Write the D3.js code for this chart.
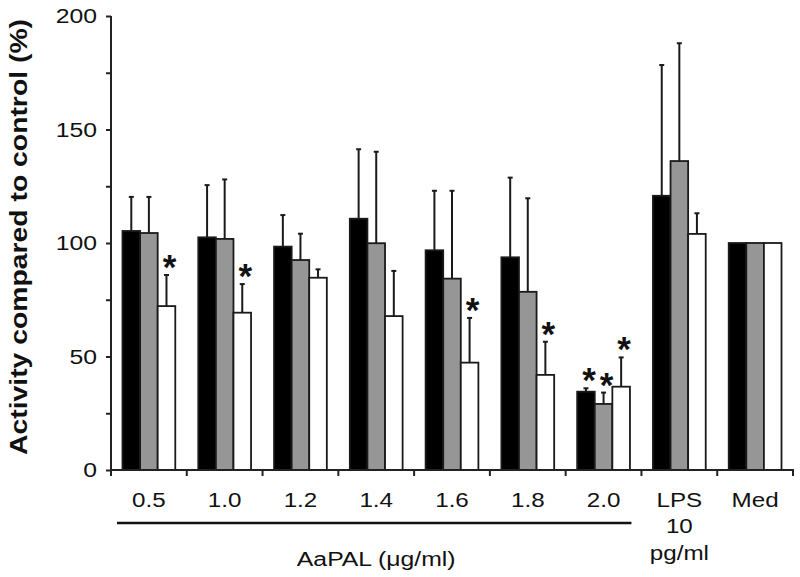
<!DOCTYPE html>
<html><head><meta charset="utf-8">
<script src="https://cdn.jsdelivr.net/npm/d3@7"></script>
<style>body{margin:0;background:#fff}svg{display:block}text{font-family:"Liberation Sans",Arial,sans-serif;fill:#111}</style>
</head><body><svg id="c" width="800" height="577"></svg>
<script>
const categories = ["0.5","1.0","1.2","1.4","1.6","1.8","2.0","LPS","Med"];
const seriesNames = ["black","gray","white"];
const seriesBlack = [105.3,102.5,98.4,110.7,96.8,93.7,34.5,120.8,100];
const seriesGray  = [104.4,101.8,92.5,99.9,84.3,78.5,29.1,136.1,100];
const seriesWhite = [72.2,69.3,84.7,67.8,47.3,41.9,36.7,104,100];
const errBlack = [15,23,13.9,30.6,26.2,35.1,1.5,57.6,0];
const errGray  = [15.9,26.2,11.6,40.3,38.7,41.2,5,51.9,0];
const errWhite = [13.7,12.6,3.7,19.9,19.7,14.6,12.9,9.1,0];
const sigBlack = [0,0,0,0,0,0,1,0,0];
const sigGray  = [0,0,0,0,0,0,1,0,0];
const sigWhite = [1,1,0,0,1,1,1,0,0];
const yTicks = [0,25,50,75,100,125,150,175,200];
const yLabel = "Activity compared to control (%)";
const groupLabel = "AaPAL (\u03bcg/ml)";
const groupCats = ["0.5","2.0"];

const values = [seriesBlack, seriesGray, seriesWhite];
const errs = [errBlack, errGray, errWhite];
const sigs = [sigBlack, sigGray, sigWhite];
const fills = ["#000000","#969696","#ffffff"];

const svg = d3.select("#c");
const x = d3.scaleBand().domain(categories).range([111,793]).padding(0);
const bw = x.bandwidth();
const x1 = d3.scaleBand().domain(seriesNames).range([11.5, bw-11.5]).padding(0);
const y = d3.scaleLinear().domain([0,200]).range([470,16]);
const SX = 1.18;

const data = [];
categories.forEach((c,i)=>seriesNames.forEach((s,j)=>data.push({c,s,j,v:values[j][i],e:errs[j][i],sig:sigs[j][i]})));

// error bars (behind bars)
const eg = svg.append("g").attr("stroke","#1a1a1a").attr("stroke-width",2);
data.filter(d=>d.e>0).forEach(d=>{
  const cx = x(d.c)+x1(d.s)+x1.bandwidth()/2;
  eg.append("line").attr("x1",cx).attr("x2",cx).attr("y1",y(d.v)).attr("y2",y(d.v+d.e));
  eg.append("line").attr("x1",cx-2.5).attr("x2",cx+2.5).attr("y1",y(d.v+d.e)).attr("y2",y(d.v+d.e));
});

// bars
svg.append("g").selectAll("rect").data(data).join("rect")
  .attr("x",d=>x(d.c)+x1(d.s))
  .attr("y",d=>y(d.v))
  .attr("width",x1.bandwidth())
  .attr("height",d=>y(0)-y(d.v))
  .attr("fill",d=>fills[d.j])
  .attr("stroke","#1a1a1a").attr("stroke-width",1.8);

// stars
svg.append("g").selectAll("text").data(data.filter(d=>d.sig)).join("text")
  .attr("x",d=>x(d.c)+x1(d.s)+x1.bandwidth()/2+3)
  .attr("y",d=>y(d.v+d.e)+4)
  .attr("text-anchor","middle")
  .style("font-size","35px").style("font-weight","bold")
  .text("*");

// y axis
const ya = svg.append("g").attr("transform","translate(111,0)")
  .call(d3.axisLeft(y).tickValues(yTicks).tickSize(5).tickPadding(11)
    .tickFormat(d=>d%50===0?d:""));
ya.select(".domain").attr("stroke","#222").attr("stroke-width",2).attr("d","M0,16V470");
ya.selectAll(".tick line").attr("stroke","#222").attr("stroke-width",2);
ya.selectAll(".tick text").style("font-size","21px").style("font-family","Liberation Sans, Arial, sans-serif")
  .attr("fill","#111").attr("transform",`scale(${SX},1)`).attr("x",-14/SX);

// x axis
const xa = svg.append("g").attr("transform","translate(0,470)")
  .call(d3.axisBottom(x).tickSize(0).tickPadding(22));
xa.select(".domain").attr("stroke","#222").attr("stroke-width",2).attr("d","M110,0H794");
xa.selectAll(".tick text").style("font-size","20.5px").style("font-family","Liberation Sans, Arial, sans-serif")
  .attr("fill","#111").attr("transform",`scale(${SX},1)`)
  .each(function(d){
    if(d==="LPS"){
      const t=d3.select(this); t.text(null);
      ["LPS","10","pg/ml"].forEach((s,k)=>t.append("tspan").attr("x",0).attr("dy",k===0?"0.71em":"1.3em").text(s));
    }
  });
// boundary ticks
const bounds = categories.map(c=>x(c)).concat([x(categories[categories.length-1])+bw]);
svg.append("g").selectAll("line").data(bounds).join("line")
  .attr("x1",d=>d).attr("x2",d=>d).attr("y1",470).attr("y2",476)
  .attr("stroke","#222").attr("stroke-width",2);

// group underline and label
const gx0 = x(groupCats[0])+6, gx1 = x(groupCats[1])+bw-10;
svg.append("line").attr("x1",gx0).attr("x2",gx1).attr("y1",523).attr("y2",523)
  .attr("stroke","#111").attr("stroke-width",2.5);
svg.append("text").attr("transform",`translate(${(x(groupCats[0])+x(groupCats[1])+bw)/2},566) scale(${SX},1)`)
  .attr("text-anchor","middle").style("font-size","21px").text(groupLabel);

// y label
svg.append("text").attr("transform","translate(27,237) rotate(-90)")
  .attr("text-anchor","middle").style("font-size","24px").style("font-weight","bold")
  .attr("textLength",436).attr("lengthAdjust","spacingAndGlyphs")
  .text(yLabel);
</script></body></html>
